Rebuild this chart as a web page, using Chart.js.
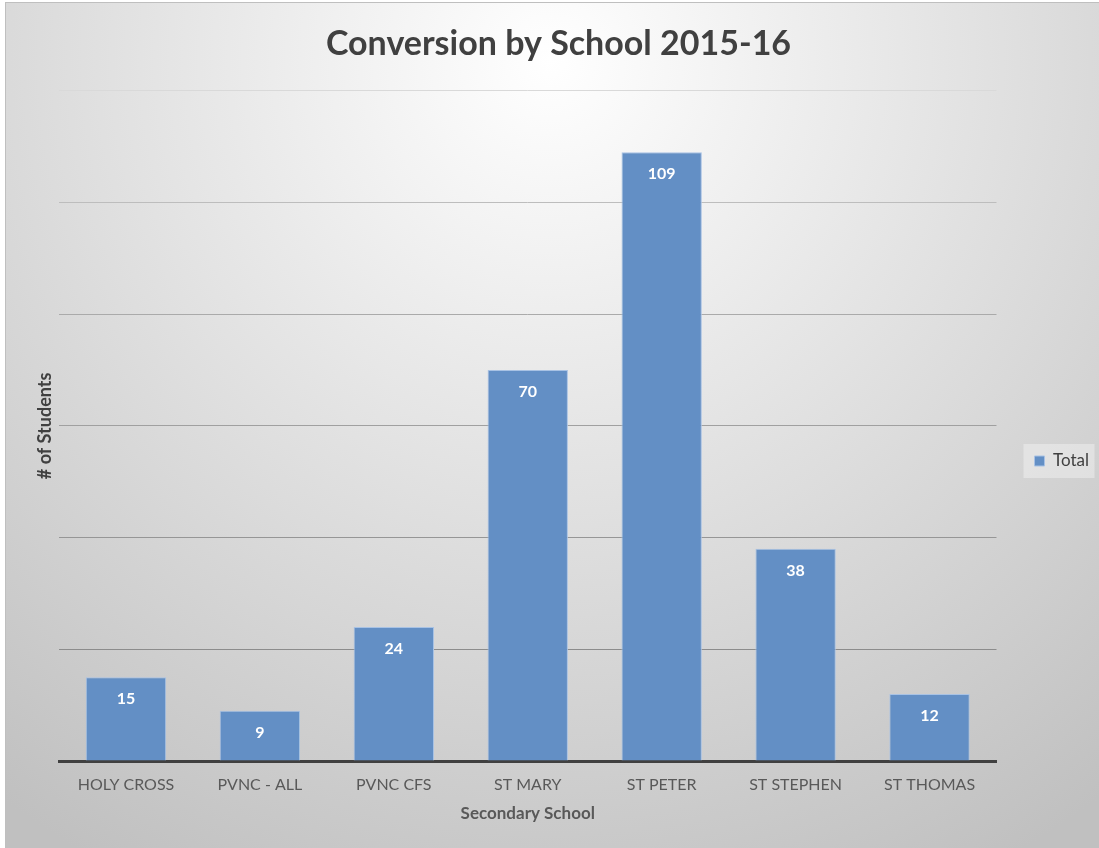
<!DOCTYPE html>
<html>
<head>
<meta charset="utf-8">
<script src="https://cdn.jsdelivr.net/npm/chart.js@4/dist/chart.umd.min.js"></script>
<style>
  html, body { margin: 0; padding: 0; background: #fff; }
  #wrap { width: 1099px; height: 848px; }
</style>
</head>
<body>
<div id="wrap"><canvas id="conv" width="1099" height="848"></canvas></div>
<script>
// chart data
const schools = ['HOLY CROSS', 'PVNC - ALL', 'PVNC CFS', 'ST MARY', 'ST PETER', 'ST STEPHEN', 'ST THOMAS'];
const totals = [15, 9, 24, 70, 109, 38, 12];
const yMin = 0;
const yMax = 120;
const yStep = 20;

const fontName = 'Lato, "Open Sans", sans-serif';
const textGrey = '#595959';

// gradient background + thin frame like the excel chart area
const bgPlugin = {
    id: 'bg',
    afterLayout(chart) {
        // excel puts the legend lower and further right than chart.js does
        const lg = chart.legend;
        if (lg) {
            const dy = 37, dx = 28;
            lg.top += dy; lg.bottom += dy;
            lg.left += dx; lg.right += dx;
        }
        // title is centred over the whole picture, not the padded area
        const tb = chart.titleBlock;
        if (tb) { tb.left += 20; tb.right += 20; }
    },
    beforeDraw(chart) {
        const ctx = chart.ctx;
        const w = chart.width, h = chart.height;
        ctx.save();
        ctx.fillStyle = '#ffffff';
        ctx.fillRect(0, 0, w, h);
        const g = ctx.createRadialGradient(550, 60, 0, 550, 60, 920);
        g.addColorStop(0, '#ffffff');
        g.addColorStop(1, '#c0c0c0');
        ctx.fillStyle = g;
        ctx.fillRect(6, 3, w - 6, h - 3);
        ctx.strokeStyle = '#bfbfbf';
        ctx.lineWidth = 1;
        ctx.strokeRect(5.5, 2.5, w, h);

        // light box behind the legend
        const lg = chart.legend;
        if (lg) {
            const cy = (lg.top + lg.bottom) / 2;
            ctx.fillStyle = 'rgba(255,255,255,0.35)';
            ctx.fillRect(lg.left - 1, cy - 17, 71, 34);
        }
        ctx.restore();
    }
};

// white bold values inside the top of each bar
const valuePlugin = {
    id: 'values',
    afterDatasetsDraw(chart) {
        const ctx = chart.ctx;
        const meta = chart.getDatasetMeta(0);
        ctx.save();
        ctx.fillStyle = '#ffffff';
        ctx.font = 'bold 16px ' + fontName;
        ctx.textAlign = 'center';
        ctx.textBaseline = 'middle';
        meta.data.forEach((bar, i) => {
            ctx.fillText(String(totals[i]), bar.x, bar.y + 22);
        });
        ctx.restore();
    }
};

function gridColor(c) {
    const v = c.tick ? c.tick.value : 0;
    if (v === 0) return 'rgba(0,0,0,0)';
    const shades = { 20: '#8c8c8c', 40: '#969696', 60: '#a0a0a0', 80: '#aaaaaa', 100: '#bdbdbd', 120: '#d9d9d9' };
    return shades[v] || '#a0a0a0';
}

new Chart(document.getElementById('conv').getContext('2d'), {
    type: 'bar',
    data: {
        labels: schools,
        datasets: [{
            label: 'Total',
            data: totals,
            backgroundColor: 'rgb(99,143,197)',
            borderColor: 'rgb(168,194,228)',
            borderWidth: 1,
            barPercentage: 0.6,
            categoryPercentage: 1.0
        }]
    },
    options: {
        responsive: false,
        animation: false,
        layout: { padding: { left: 6, right: 28, top: 0, bottom: 0 } },
        plugins: {
            title: {
                display: true,
                text: 'Conversion by School 2015-16',
                color: '#404040',
                font: { family: fontName, size: 34, weight: 'bold' },
                padding: { top: 24, bottom: 26 }
            },
            legend: {
                position: 'right',
                labels: {
                    color: '#404040',
                    font: { family: fontName, size: 17 },
                    boxWidth: 10,
                    boxHeight: 10,
                    padding: 10
                }
            },
            tooltip: { enabled: false }
        },
        scales: {
            x: {
                grid: { display: false },
                border: { display: true, color: '#404040', width: 3 },
                ticks: {
                    color: textGrey,
                    font: { family: fontName, size: 16 },
                    padding: 6,
                    maxRotation: 0
                },
                title: {
                    display: true,
                    text: 'Secondary School',
                    color: textGrey,
                    font: { family: fontName, size: 17, weight: 'bold' },
                    padding: { top: 0, bottom: 24 }
                },
                afterFit(s) { s.height = 87; }
            },
            y: {
                min: yMin,
                max: yMax,
                ticks: { display: false, stepSize: yStep },
                grid: { color: gridColor, lineWidth: 1, drawTicks: false },
                border: { display: false },
                title: {
                    display: true,
                    text: '# of Students',
                    color: '#404040',
                    font: { family: fontName, size: 18, weight: 'bold' },
                    padding: { top: 28, bottom: 0 }
                },
                afterFit(s) { s.width = 53; }
            }
        }
    },
    plugins: [bgPlugin, valuePlugin]
});
</script>
</body>
</html>
